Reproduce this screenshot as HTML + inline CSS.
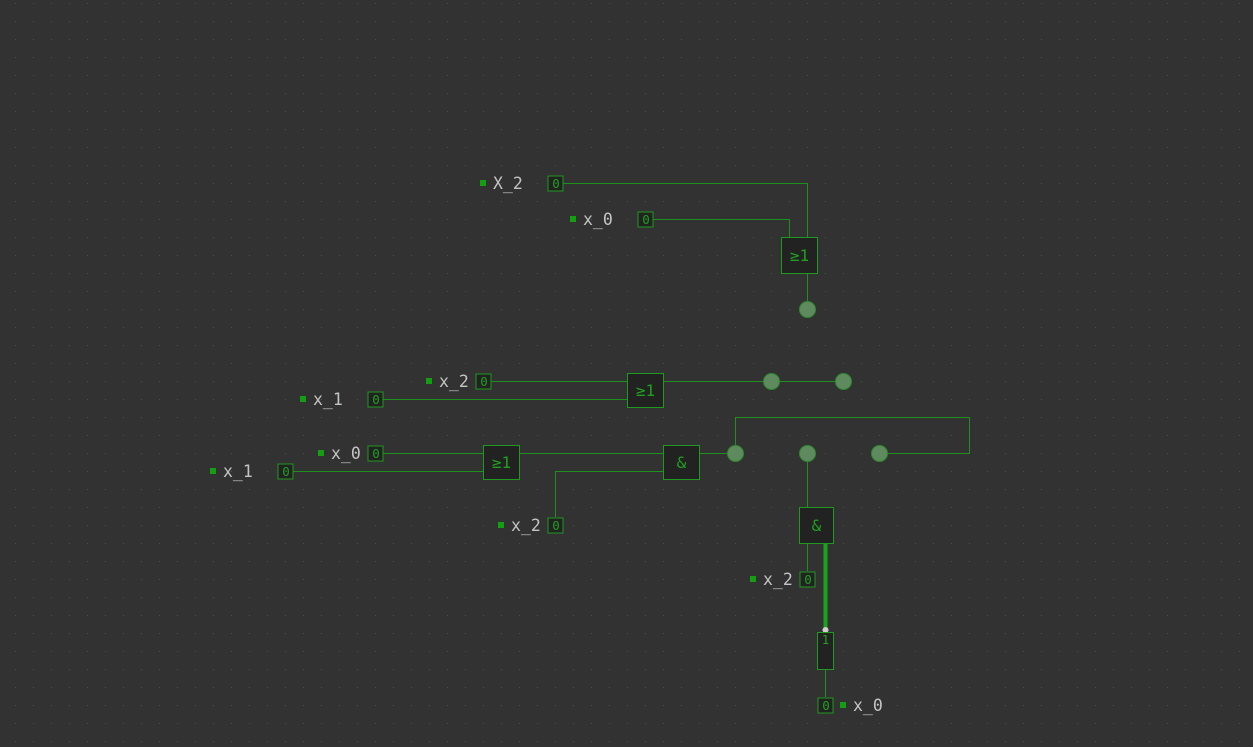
<!DOCTYPE html>
<html><head><meta charset="utf-8"><style>
html,body{margin:0;padding:0;background:#323232;}
svg{display:block;}
.lbl{font-family:"DejaVu Sans Mono","Liberation Mono",monospace;font-size:16.5px;fill:#c4c4c4;}
.val{font-family:"DejaVu Sans Mono","Liberation Mono",monospace;font-size:12.5px;fill:#1fa01f;}
.gt{font-family:"DejaVu Sans Mono","Liberation Mono",monospace;font-size:16px;fill:#1fa01f;}
</style></head><body>
<svg id="c" width="1253" height="747" xmlns="http://www.w3.org/2000/svg">
<defs><pattern id="g" x="15" y="3" width="18" height="18" patternUnits="userSpaceOnUse"><rect x="0" y="0" width="1" height="1" fill="#2d6a2d"/></pattern></defs>
<rect width="1253" height="747" fill="#323232"/>
<rect width="1253" height="747" fill="url(#g)"/>
<g id="wires" fill="none" stroke="#1f8f1f" stroke-width="1">
<polyline points="563,183.5 807.5,183.5 807.5,237"/>
<polyline points="653,219.5 789.5,219.5 789.5,237"/>
<polyline points="807.5,273 807.5,301"/>
<polyline points="491,381.5 627,381.5"/>
<polyline points="383,399.5 627,399.5"/>
<polyline points="663,381.5 843,381.5"/>
<polyline points="383,453.5 483,453.5"/>
<polyline points="293,471.5 483,471.5"/>
<polyline points="519,453.5 663,453.5"/>
<polyline points="555.5,517 555.5,471.5 663,471.5"/>
<polyline points="699,453.5 727,453.5"/>
<polyline points="735.5,445 735.5,417.5 969.5,417.5 969.5,453.5 887,453.5"/>
<polyline points="807.5,461 807.5,507"/>
<polyline points="807.5,543 807.5,571"/>
<polyline points="825.5,669 825.5,697"/>
</g>
<line x1="825.5" y1="543" x2="825.5" y2="630" stroke="#19a519" stroke-width="4"/>
<circle cx="825.5" cy="630" r="3" fill="#cfcfcf"/>
<g id="gates"></g>
</svg>
<script>
const gates=[[781,237,36,36,'≥1'],[627,373,36,34,'≥1'],[483,445,36,34,'≥1'],[663,445,36,34,'&'],[799,507,34,36,'&']];
const inputs=[[483,183,'X_2',555],[573,219,'x_0',645],[429,381,'x_2',483],[303,399,'x_1',375],[321,453,'x_0',375],[213,471,'x_1',285],[501,525,'x_2',555],[753,579,'x_2',807]];
const outputs=[[807,309],[771,381],[843,381],[735,453],[807,453],[879,453]];
const g=document.getElementById('gates');
const NS='http://www.w3.org/2000/svg';
function mk(t,a){const e=document.createElementNS(NS,t);for(const k in a)e.setAttribute(k,a[k]);g.appendChild(e);return e;}
gates.forEach(d=>{
const r=mk('rect',{x:d[0]+.5,y:d[1]+.5,width:d[2],height:d[3],fill:'#222',stroke:'#1f9a1f'});


const t=mk('text',{x:d[0]+d[2]/2+.5,y:d[1]+d[3]/2+6,'text-anchor':'middle',class:'gt'});t.textContent=d[4];


});
function box(cx,cy,v){
const r=mk('rect',{x:cx-7.5,y:cy-7.5,width:15,height:15,fill:'#222',stroke:'#1f9a1f'});


const t=mk('text',{x:cx+.5,y:cy+4.5,'text-anchor':'middle',class:'val'});t.textContent=v;


}
inputs.forEach(d=>{
const s=mk('rect',{x:d[0]-3,y:d[1]-3,width:6,height:6,fill:'#12a012'});


const t=mk('text',{x:d[0]+10,y:d[1]+6,class:'lbl'});t.textContent=d[2];


box(d[3]+.5,d[1]+.5,'0');
});
outputs.forEach(d=>{
const c=mk('circle',{cx:d[0]+.5,cy:d[1]+.5,r:8,fill:'#5f8a5f',stroke:'#2d8a2d'});


});
const o=mk('rect',{x:817.5,y:632.5,width:16,height:37,fill:'#222',stroke:'#1f9a1f'});


const ot=mk('text',{x:825.5,y:644,'text-anchor':'middle',class:'val'});ot.textContent='1';


box(825.5,705.5,'0');
const s=mk('rect',{x:840,y:702,width:6,height:6,fill:'#12a012'});


const lt=mk('text',{x:853,y:711,class:'lbl'});lt.textContent='x_0';


</script>
</body></html>
